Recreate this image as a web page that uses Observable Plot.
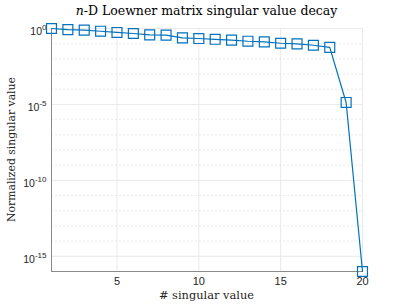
<!DOCTYPE html>
<html>
<head>
<meta charset="utf-8">
<script src="https://cdn.jsdelivr.net/npm/d3@7"></script>
<script src="https://cdn.jsdelivr.net/npm/@observablehq/plot@0.6"></script>
<style>
  html, body { margin: 0; padding: 0; background: #fff; }
  #chart svg { display: block; }
</style>
</head>
<body>
<div id="chart"></div>
<script>
// Data
const index = [1,2,3,4,5,6,7,8,9,10,11,12,13,14,15,16,17,18,19,20];
const singularValues = [1, 0.851, 0.776, 0.661, 0.55, 0.468, 0.38, 0.363, 0.24, 0.219,
  0.195, 0.17, 0.145, 0.132, 0.107, 0.098, 0.079, 0.0575, 1.35e-5, 1e-16];
const xTicks = [5, 10, 15, 20];
const yTicks = [1, 1e-5, 1e-10, 1e-15];
const yExponents = [0, -5, -10, -15];
const yMinor = [1e-1,1e-2,1e-3,1e-4,1e-6,1e-7,1e-8,1e-9,1e-11,1e-12,1e-13,1e-14,1e-16];
const titleText = "-D Loewner matrix singular value decay";
const xLabel = "# singular value";
const yLabel = "Normalized singular value";

const data = index.map((k, i) => ({k, s: singularValues[i]}));
const blue = "#0072BD";
const gridColor = "#e3e3e3";

const plot = Plot.plot({
  width: 407,
  height: 305,
  marginLeft: 51,
  marginRight: 45,
  marginTop: 28,
  marginBottom: 34,
  style: {fontFamily: "'Liberation Sans', Arial, sans-serif", fontSize: "11px", color: "#262626", background: "#fff"},
  x: {domain: [1, 20], ticks: xTicks, tickSize: 0, tickPadding: 6, label: null},
  y: {type: "log", domain: [1e-16, 1], ticks: yTicks, tickSize: 0, tickPadding: 5, label: null,
      tickFormat: d => "10^" + yExponents[yTicks.findIndex(t => Math.abs(Math.log10(t) - Math.log10(d)) < 1e-6)]},
  marks: [
    Plot.ruleY(yMinor, {stroke: gridColor, strokeDasharray: "2,2", strokeWidth: 0.8}),
    Plot.ruleY(yTicks, {stroke: gridColor, strokeWidth: 0.8}),
    Plot.ruleX(xTicks, {stroke: gridColor, strokeWidth: 0.8}),
    Plot.ruleX([1], {stroke: "#8a8a8a", strokeWidth: 1}),
    Plot.ruleY([1e-16], {stroke: "#8a8a8a", strokeWidth: 1}),
    Plot.line(data, {x: "k", y: "s", stroke: blue, strokeWidth: 1.2, clip: false}),
    Plot.dot(data, {x: "k", y: "s", symbol: "square", r: 5.6, stroke: blue, strokeWidth: 1.2, fill: "none"})
  ]
});

document.getElementById("chart").appendChild(plot);
const svg = d3.select(plot.tagName.toLowerCase() === "svg" ? plot : plot.querySelector("svg"));

// superscript y tick labels
svg.selectAll('g[aria-label="y-axis tick label"] text, g[aria-label="y-axis"] text').each(function() {
  const t = d3.select(this);
  const s = t.text();
  const m = s.match(/^10\^(-?\d+)$/);
  if (!m) return;
  t.text(null);
  t.append("tspan").attr("dy", "0.3em").attr("font-size", "10.5px").text("10");
  t.append("tspan").attr("dy", "-0.65em").attr("font-size", "8px").text(m[1]);
});

const W = 407;
const cx = (51 + (W - 45)) / 2;
// title
const title = svg.append("text")
  .attr("x", cx).attr("y", 15)
  .attr("text-anchor", "middle")
  .attr("font-family", "'DejaVu Serif', 'Liberation Serif', serif")
  .attr("font-size", "12.5px")
  .attr("fill", "#000");
title.append("tspan").attr("font-style", "italic").text("n");
title.append("tspan").text(titleText);

// x label
svg.append("text")
  .attr("x", cx).attr("y", 299)
  .attr("text-anchor", "middle")
  .attr("font-family", "'DejaVu Serif', 'Liberation Serif', serif")
  .attr("font-size", "11.4px")
  .attr("fill", "#262626")
  .text(xLabel);

// y label
svg.append("text")
  .attr("transform", `translate(11, ${(28 + 271) / 2}) rotate(-90)`)
  .attr("text-anchor", "middle")
  .attr("dy", "0.35em")
  .attr("font-family", "'DejaVu Serif', 'Liberation Serif', serif")
  .attr("font-size", "10.8px")
  .attr("fill", "#262626")
  .text(yLabel);
</script>
</body>
</html>
